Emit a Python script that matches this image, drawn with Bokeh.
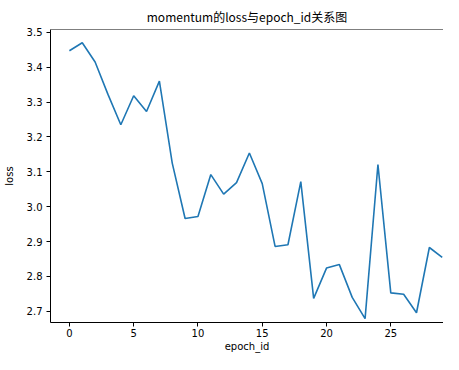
from bokeh.plotting import figure
from bokeh.models import FixedTicker, Span, Range1d, NumeralTickFormatter
from bokeh.embed import file_html
from bokeh.resources import INLINE

epochs = list(range(30))
loss = [3.447, 3.470, 3.415, 3.322, 3.235, 3.318, 3.273, 3.360, 3.125, 2.966,
        2.972, 3.092, 3.036, 3.069, 3.154, 3.066, 2.886, 2.891, 3.072, 2.737,
        2.824, 2.834, 2.740, 2.679, 3.121, 2.753, 2.749, 2.696, 2.883, 2.855]
x_ticks = [0, 5, 10, 15, 20, 25, 30]
y_ticks = [2.7, 2.8, 2.9, 3.0, 3.1, 3.2, 3.3, 3.4, 3.5]

TITLE_FONT = "Noto Sans CJK SC"
FONT = "DejaVu Sans"

p = figure(width=443, height=354, output_backend="svg", toolbar_location=None,
           title="momentum的loss与epoch_id关系图",
           x_range=Range1d(-1.47, 29.1), y_range=Range1d(2.668, 3.508),
           min_border_left=41, min_border_right=0, min_border_top=21, min_border_bottom=0)

p.title.align = "center"
p.title.text_font = TITLE_FONT
p.title.text_font_size = "12px"
p.title.text_font_style = "normal"
p.title.text_color = "#000000"

p.line(epochs, loss, line_color="#1f77b4", line_width=1.6)

p.xgrid.visible = False
p.ygrid.visible = False
p.outline_line_color = None
p.add_layout(Span(location=3.508, dimension="width", line_color="#000000", line_width=1))

for ax in (p.xaxis[0], p.yaxis[0]):
    ax.axis_line_color = "#000000"
    ax.axis_line_width = 1
    ax.major_tick_line_color = "#000000"
    ax.major_tick_in = 0
    ax.major_tick_out = 4
    ax.minor_tick_line_color = None
    ax.major_label_text_font = FONT
    ax.major_label_text_font_size = "10px"
    ax.major_label_text_color = "#000000"
    ax.major_label_text_line_height = 1.0
    ax.axis_label_text_font = FONT
    ax.axis_label_text_font_size = "10px"
    ax.axis_label_text_font_style = "normal"
    ax.axis_label_text_color = "#000000"
    ax.axis_label_text_line_height = 1.0

p.xaxis.ticker = FixedTicker(ticks=x_ticks)
p.yaxis.ticker = FixedTicker(ticks=y_ticks)
p.yaxis.formatter = NumeralTickFormatter(format="0.0")
p.xaxis.axis_label = "epoch_id"
p.yaxis.axis_label = "loss"
p.xaxis.major_label_standoff = 2
p.yaxis.major_label_standoff = 4
p.xaxis.axis_label_standoff = 1
p.yaxis.axis_label_standoff = 9

open("out.html", "w").write(file_html(p, INLINE))
